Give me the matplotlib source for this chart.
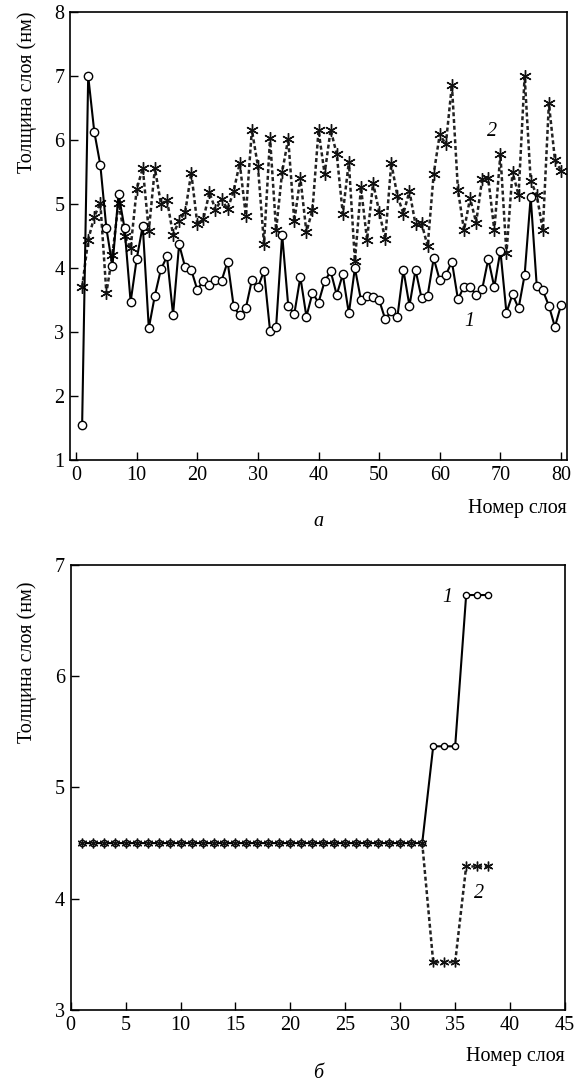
import matplotlib
matplotlib.use("Agg")
import matplotlib.pyplot as plt

plt.rcParams['font.family'] = ['Liberation Serif', 'DejaVu Serif']
plt.rcParams['font.size'] = 14.5

# panel a: layer number 1..80
layers_a = list(range(1, 81))
thick1_a = [1.55, 7.00, 6.13, 5.61, 4.62, 4.03, 5.16, 4.62, 3.47, 4.14,
            4.66, 3.06, 3.57, 3.98, 4.18, 3.27, 4.37, 4.01, 3.97, 3.66,
            3.80, 3.73, 3.81, 3.80, 4.10, 3.40, 3.26, 3.37, 3.81, 3.70,
            3.95, 3.02, 3.08, 4.52, 3.41, 3.28, 3.86, 3.24, 3.61, 3.46,
            3.79, 3.95, 3.58, 3.90, 3.29, 4.00, 3.50, 3.57, 3.55, 3.50,
            3.20, 3.33, 3.23, 3.97, 3.41, 3.97, 3.53, 3.57, 4.15, 3.81,
            3.89, 4.10, 3.51, 3.71, 3.70, 3.58, 3.67, 4.14, 3.70, 4.27,
            3.30, 3.59, 3.37, 3.89, 5.11, 3.72, 3.65, 3.41, 3.08, 3.42]
thick2_a = [3.70, 4.44, 4.80, 5.02, 3.61, 4.21, 5.02, 4.50, 4.31, 5.23,
            5.56, 4.58, 5.56, 5.00, 5.06, 4.52, 4.74, 4.87, 5.49, 4.69,
            4.76, 5.18, 4.91, 5.07, 4.92, 5.20, 5.64, 4.82, 6.16, 5.59,
            4.38, 6.03, 4.59, 5.50, 6.02, 4.73, 5.41, 4.56, 4.91, 6.15,
            5.47, 6.16, 5.78, 4.85, 5.66, 4.11, 5.26, 4.44, 5.33, 4.88,
            4.45, 5.64, 5.13, 4.85, 5.20, 4.68, 4.70, 4.34, 5.47, 6.09,
            5.93, 6.86, 5.22, 4.59, 5.09, 4.71, 5.39, 5.40, 4.59, 5.78,
            4.23, 5.50, 5.14, 7.00, 5.36, 5.14, 4.59, 6.57, 5.69, 5.52]

# panel б: layer number 1..38
layers_b = list(range(1, 39))
thick1_b = [4.5] * 32 + [5.37] * 3 + [6.73] * 3
thick2_b = [4.5] * 32 + [3.43] * 3 + [4.29] * 3

star = (6, 2, 0)
dots = (0, (1.6, 1.1))

fig = plt.figure(figsize=(5.81, 10.84), dpi=100)
ax1 = fig.add_axes([0.1205, 0.5756, 0.8555, 0.4134])
ax2 = fig.add_axes([0.1217, 0.0683, 0.8508, 0.4105])

# --- panel a ---
ax1.plot(layers_a, thick1_a, color='black', lw=1.5, marker='o', ms=6,
         mfc='white', mec='black', mew=1.0, zorder=3)
ax1.plot(layers_a, thick2_a, color='#222222', lw=1.8, ls=dots,
         marker=star, ms=9, mec='#111111', mew=1.0, zorder=2)
ax1.set_xlim(-1, 81)
ax1.set_ylim(1, 8)
ax1.set_xticks(range(0, 81, 10))
ax1.set_yticks(range(1, 9))
ax1.text(68.7, 6.13, '2', style='italic', ha='center', va='center')
ax1.text(64.9, 3.16, '1', style='italic', ha='center', va='center')

# --- panel б ---
ax2.plot(layers_b, thick1_b, color='black', lw=1.5, marker='o', ms=4.5,
         mfc='white', mec='black', mew=1.0, zorder=2)
ax2.plot(layers_b[31:], thick2_b[31:], color='#222222', lw=1.8, ls=dots,
         zorder=2)
ax2.plot(layers_b, thick2_b, ls='none', marker=star, ms=7, mec='#111111',
         mew=1.0, zorder=3)
ax2.set_xlim(0, 45)
ax2.set_ylim(3, 7)
ax2.set_xticks(range(0, 46, 5))
ax2.set_yticks(range(3, 8))
ax2.text(34.3, 6.71, '1', style='italic', ha='center', va='center')
ax2.text(37.2, 4.05, '2', style='italic', ha='center', va='center')

for ax in (ax1, ax2):
    ax.tick_params(direction='in', length=6, width=1.0, pad=4)
    for s in ax.spines.values():
        s.set_linewidth(1.2)

fig.text(0.046, 1 - 92 / 1084, 'Толщина слоя (нм)', rotation=90,
         ha='center', va='center')
fig.text(0.046, 1 - 662 / 1084, 'Толщина слоя (нм)', rotation=90,
         ha='center', va='center')
fig.text(567 / 581, 1 - 508 / 1084, 'Номер слоя', ha='right', va='center')
fig.text(318 / 581, 1 - 522 / 1084, 'а', style='italic', ha='center', va='center')
fig.text(565 / 581, 1 - 1057 / 1084, 'Номер слоя', ha='right', va='center')
fig.text(318 / 581, 1 - 1074 / 1084, 'б', style='italic', ha='center', va='center')

fig.savefig('out.png', dpi=100)
